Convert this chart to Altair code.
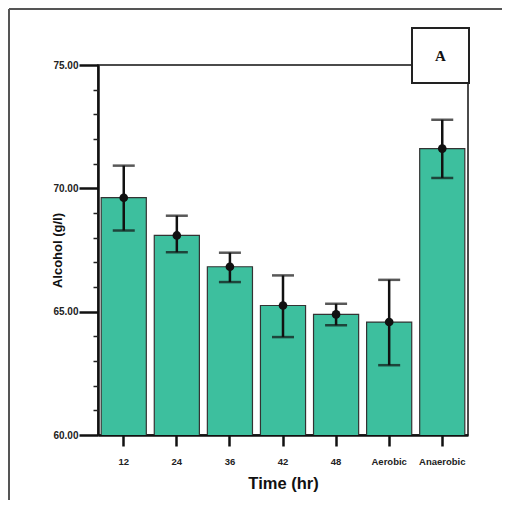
import altair as alt
import pandas as pd

categories = ["12", "24", "36", "42", "48", "Aerobic", "Anaerobic"]
means = [69.62, 68.09, 66.82, 65.25, 64.89, 64.58, 71.61]
upper = [70.92, 68.89, 67.39, 66.47, 65.32, 66.29, 72.78]
lower = [68.29, 67.41, 66.20, 63.97, 64.45, 62.83, 70.42]

major_ticks = [60, 65, 70, 75]
minor_ticks = [61, 62, 63, 64, 66, 67, 68, 69, 71, 72, 73, 74]

df = pd.DataFrame({"cat": categories, "mean": means, "hi": upper, "lo": lower})
one = pd.DataFrame({"k": [0]})

W, H = 370, 370
FONT = "Liberation Sans"

yscale = alt.Scale(domain=[60, 75], nice=False, zero=False)
xscale = alt.Scale(paddingInner=0.15, paddingOuter=0.06)

xaxis = alt.Axis(
    title="Time (hr)", labelAngle=0, tickSize=11, tickWidth=2.5, tickColor="#111",
    domainWidth=2.5, domainColor="#111", labelFont=FONT, labelFontSize=9.5,
    labelFontWeight="bold", labelColor="#222", labelPadding=10,
    titleFont=FONT, titleFontSize=16.5, titleFontWeight="bold", titleColor="#111",
    titlePadding=10, grid=False,
)
yaxis = alt.Axis(
    title="Alcohol (g/l)", orient="left", values=major_ticks, format=".2f",
    tickSize=19, tickWidth=2.5, tickColor="#111", domainWidth=2.5, domainColor="#111",
    labelFont=FONT, labelFontSize=10, labelFontWeight="bold", labelColor="#222",
    labelPadding=1, titleFont=FONT, titleFontSize=13, titleFontWeight="bold",
    titleColor="#111", titleX=-41, titleY=185, titleAngle=270, titleAlign="center",
    titleBaseline="middle", grid=False,
)
minor_axis = alt.Axis(
    title=None, orient="left", values=minor_ticks, labels=False, domain=False,
    tickSize=5, tickWidth=1.5, tickColor="#222", grid=False,
)

base = alt.Chart(df)
Xn = alt.X("cat:N", sort=categories, scale=xscale, axis=None)

bars = base.mark_bar(color="#3dbf9e", stroke="#333", strokeWidth=1.2, clip=True).encode(
    x=alt.X("cat:N", sort=categories, scale=xscale, axis=xaxis),
    y=alt.Y("mean:Q", scale=yscale, axis=yaxis),
)
errs = base.mark_rule(color="#111", strokeWidth=2.5).encode(
    x=Xn, y=alt.Y("lo:Q", scale=yscale, axis=None), y2="hi:Q",
)
caps_hi = base.mark_tick(color="#111", size=22, thickness=2.5).encode(
    x=Xn, y=alt.Y("hi:Q", scale=yscale, axis=None)
)
caps_lo = base.mark_tick(color="#111", size=22, thickness=2.5).encode(
    x=Xn, y=alt.Y("lo:Q", scale=yscale, axis=None)
)
dots = base.mark_point(filled=True, color="#111", size=75, opacity=1).encode(
    x=Xn, y=alt.Y("mean:Q", scale=yscale, axis=None)
)
minor = base.mark_point(opacity=0).encode(
    x=Xn, y=alt.Y("mean:Q", scale=yscale, axis=minor_axis),
)

box = alt.Chart(one).mark_rect(fill="white", stroke="#222", strokeWidth=2).encode(
    x=alt.value(314), x2=alt.value(371), y=alt.value(-37), y2=alt.value(18)
)
label_a = alt.Chart(one).mark_text(
    text="A", font="Liberation Serif", fontSize=15, fontWeight="bold", color="#111",
    align="center", baseline="middle",
).encode(x=alt.value(342.5), y=alt.value(-9))

border_left = alt.Chart(one).mark_rule(color="#555", strokeWidth=2).encode(
    x=alt.value(-89), y=alt.value(-56), y2=alt.value(H + 65)
)
border_top = alt.Chart(one).mark_rule(color="#555", strokeWidth=2).encode(
    y=alt.value(-56), x=alt.value(-89), x2=alt.value(W + 34)
)

chart = (
    alt.layer(bars, minor, errs, caps_hi, caps_lo, dots, box, label_a, border_left, border_top)
    .resolve_axis(x="independent", y="independent")
    .properties(
        width=W, height=H, background="white",
        autosize=alt.AutoSizeParams(type="none"),
        padding={"left": 90, "top": 57, "right": 34, "bottom": 65},
    )
    .configure_view(stroke="#111", strokeWidth=1.5)
)

chart.save("out.html", embed_options={"renderer": "svg", "actions": False})
